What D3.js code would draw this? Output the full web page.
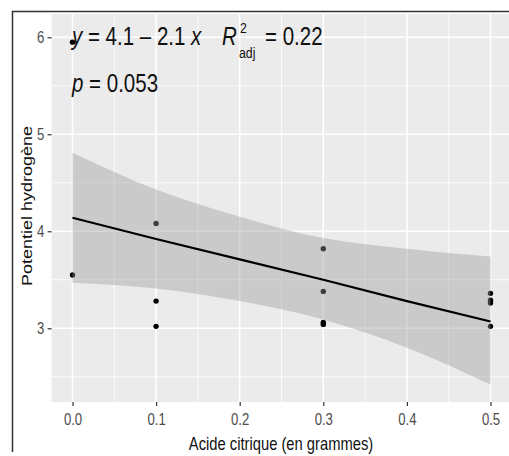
<!DOCTYPE html>
<html>
<head>
<meta charset="utf-8">
<script src="https://cdn.jsdelivr.net/npm/d3@7"></script>
<style>
  body { margin: 0; background: #fff; }
  svg { display: block; font-family: "Liberation Sans", Arial, sans-serif; }
</style>
</head>
<body>
<div id="chart"></div>
<script>
// data
const citric = [0, 0, 0.1, 0.1, 0.1, 0.3, 0.3, 0.3, 0.3, 0.5, 0.5, 0.5, 0.5];
const ph = [3.55, 5.95, 4.08, 3.28, 3.02, 3.82, 3.38, 3.06, 3.04, 3.36, 3.29, 3.26, 3.02];

// fitted lm line and its confidence band
const fitX = [0, 0.1, 0.2, 0.3, 0.4, 0.5];
const fitY = [4.14, 3.92, 3.71, 3.50, 3.28, 3.07];
const ciLow = [3.47, 3.41, 3.28, 3.09, 2.80, 2.42];
const ciHigh = [4.81, 4.43, 4.15, 3.93, 3.82, 3.74];

const xTicks = [0, 0.1, 0.2, 0.3, 0.4, 0.5];
const xMinor = [0.05, 0.15, 0.25, 0.35, 0.45];
const yTicks = [3, 4, 5, 6];
const yMinor = [2.5, 3.5, 4.5, 5.5];

const xTitle = 'Acide citrique (en grammes)';
const yTitle = 'Potentiel hydrogène';

const W = 509, H = 456;
const panel = {left: 51.6, right: 511.4, top: 14, bottom: 402};
const squish = 0.82; // the source picture is narrowed horizontally

const svg = d3.select('#chart').append('svg')
    .attr('width', W)
    .attr('height', H);

const x = d3.scaleLinear().domain([-0.025, 0.525]).range([panel.left, panel.right]);
const y = d3.scaleLinear().domain([2.24, 6.24]).range([panel.bottom, panel.top]);

svg.append('clipPath').attr('id', 'clip')
    .append('rect')
    .attr('x', panel.left).attr('y', panel.top)
    .attr('width', panel.right - panel.left)
    .attr('height', panel.bottom - panel.top);

// panel background
svg.append('rect')
    .attr('x', panel.left).attr('y', panel.top)
    .attr('width', panel.right - panel.left)
    .attr('height', panel.bottom - panel.top)
    .attr('fill', '#EBEBEB');

const g = svg.append('g').attr('clip-path', 'url(#clip)');

// grid lines
g.selectAll('.ygrid-minor').data(yMinor).enter().append('line')
    .attr('x1', panel.left).attr('x2', panel.right)
    .attr('y1', d => y(d)).attr('y2', d => y(d))
    .attr('stroke', '#fff').attr('stroke-width', 0.8);
g.selectAll('.xgrid-minor').data(xMinor).enter().append('line')
    .attr('y1', panel.top).attr('y2', panel.bottom)
    .attr('x1', d => x(d)).attr('x2', d => x(d))
    .attr('stroke', '#fff').attr('stroke-width', 0.8);
g.selectAll('.ygrid').data(yTicks).enter().append('line')
    .attr('x1', panel.left).attr('x2', panel.right)
    .attr('y1', d => y(d)).attr('y2', d => y(d))
    .attr('stroke', '#fff').attr('stroke-width', 1.6);
g.selectAll('.xgrid').data(xTicks).enter().append('line')
    .attr('y1', panel.top).attr('y2', panel.bottom)
    .attr('x1', d => x(d)).attr('x2', d => x(d))
    .attr('stroke', '#fff').attr('stroke-width', 1.6);

// points (drawn under the band)
g.selectAll('.dot').data(citric).enter().append('circle')
    .attr('cx', d => x(d))
    .attr('cy', (d, i) => y(ph[i]))
    .attr('r', 2.7)
    .attr('fill', '#000');

// confidence band
const band = d3.area()
    .x((d, i) => x(fitX[i]))
    .y0((d, i) => y(ciLow[i]))
    .y1((d, i) => y(ciHigh[i]))
    .curve(d3.curveMonotoneX);
g.append('path')
    .attr('d', band(fitX))
    .attr('fill', '#999999')
    .attr('fill-opacity', 0.4);

// fitted line
const fitLine = d3.line()
    .x((d, i) => x(fitX[i]))
    .y((d, i) => y(fitY[i]));
g.append('path')
    .attr('d', fitLine(fitX))
    .attr('fill', 'none')
    .attr('stroke', '#000')
    .attr('stroke-width', 2.2);

// x axis
const xAxis = svg.append('g')
    .attr('transform', `translate(0,${panel.bottom})`)
    .call(d3.axisBottom(x).tickValues(xTicks).tickFormat(d3.format('.1f'))
        .tickSize(4).tickPadding(8));
xAxis.select('.domain').remove();
xAxis.selectAll('line').attr('stroke', '#333').attr('stroke-width', 1.2);
xAxis.selectAll('text')
    .attr('fill', '#4D4D4D')
    .style('font-size', '16px')
    .attr('transform', `scale(${squish},1)`);

// y axis
const yAxis = svg.append('g')
    .attr('transform', `translate(${panel.left},0)`)
    .call(d3.axisLeft(y).tickValues(yTicks).tickFormat(d3.format('d'))
        .tickSize(4).tickPadding(5));
yAxis.select('.domain').remove();
yAxis.selectAll('line').attr('stroke', '#333').attr('stroke-width', 1.2);
yAxis.selectAll('text')
    .attr('fill', '#4D4D4D')
    .style('font-size', '16px')
    .attr('transform', `scale(${squish},1)`);

// axis titles
svg.append('text')
    .attr('transform', `translate(281,450) scale(${squish},1)`)
    .attr('text-anchor', 'middle')
    .style('font-size', '18px')
    .attr('fill', '#111')
    .text(xTitle);

svg.append('text')
    .attr('transform', `translate(32,206) rotate(-90) scale(1,${squish})`)
    .attr('text-anchor', 'middle')
    .style('font-size', '18px')
    .attr('fill', '#111')
    .text(yTitle);

// regression annotation
const note = svg.append('g').attr('fill', '#111');
function label(px, py, size, parts) {
    const t = note.append('text')
        .attr('transform', `translate(${px},${py}) scale(${squish},1)`)
        .style('font-size', size + 'px');
    parts.forEach(p => {
        t.append('tspan')
            .style('font-style', p.i ? 'italic' : 'normal')
            .text(p.s);
    });
}
label(72, 45, 25, [{s: 'y', i: true}, {s: ' = 4.1 \u2013 2.1 '}, {s: 'x', i: true}]);
label(222, 45, 25, [{s: 'R', i: true}]);
label(240, 33, 15, [{s: '2'}]);
label(239, 58, 15, [{s: 'adj'}]);
label(265, 45, 25, [{s: '= 0.22'}]);
label(72, 92, 25, [{s: 'p', i: true}, {s: ' = 0.053'}]);

// outer frame lines
svg.append('line')
    .attr('x1', 12.5).attr('x2', 12.5).attr('y1', 11).attr('y2', 452)
    .attr('stroke', '#333').attr('stroke-width', 1.5);
svg.append('line')
    .attr('x1', 12).attr('x2', W).attr('y1', 11.5).attr('y2', 11.5)
    .attr('stroke', '#333').attr('stroke-width', 1.5);
</script>
</body>
</html>
